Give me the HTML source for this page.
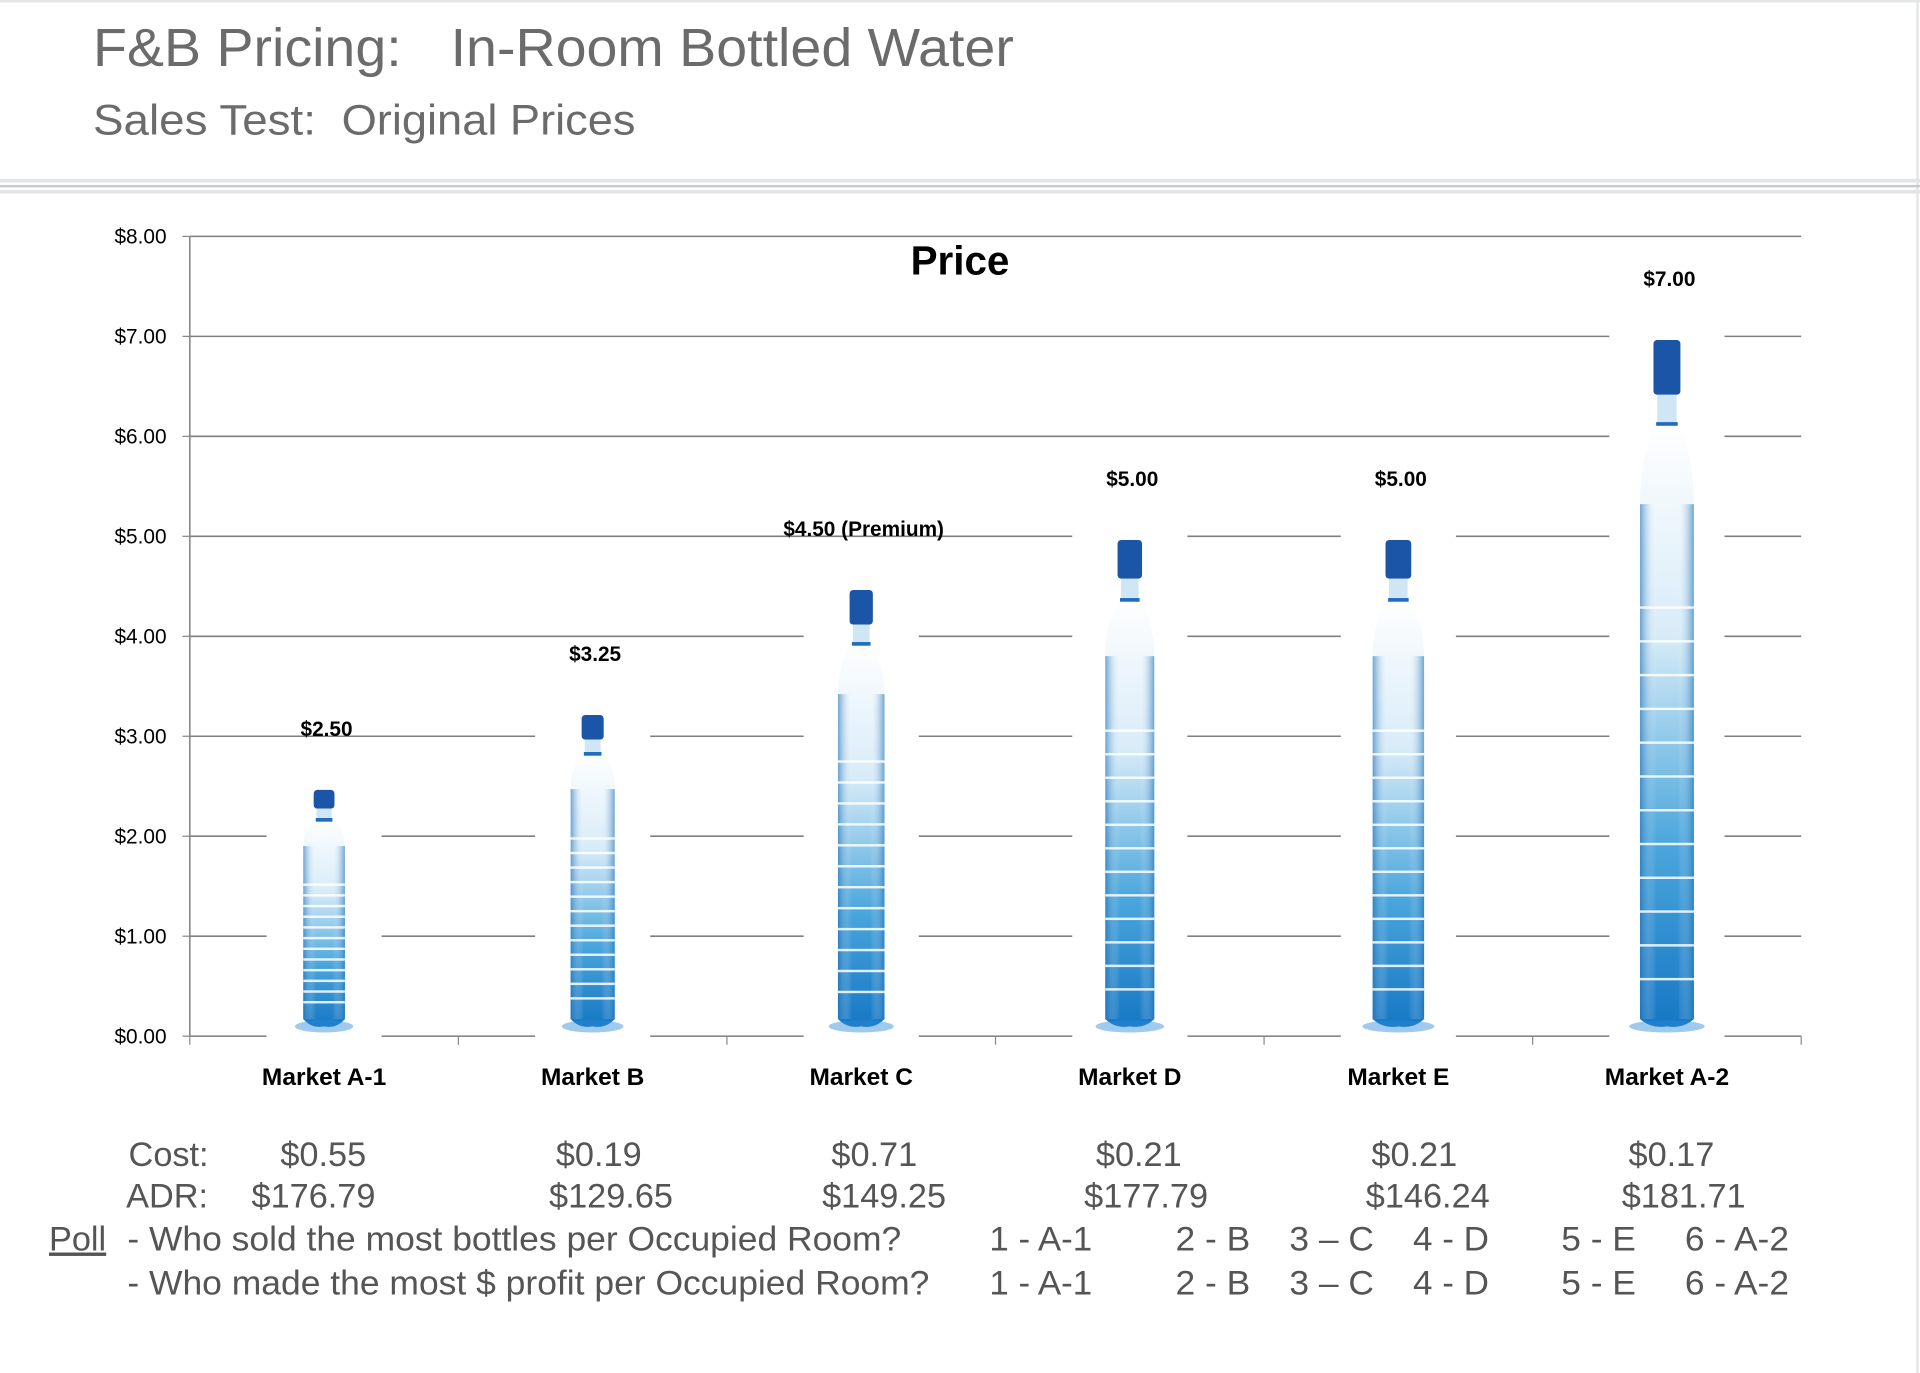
<!DOCTYPE html>
<html><head><meta charset="utf-8"><style>
html,body{margin:0;padding:0;background:#fff;}
svg{display:block;}
</style></head><body>
<svg width="1920" height="1373" viewBox="0 0 1568 1121" preserveAspectRatio="none" xmlns="http://www.w3.org/2000/svg">
<defs>
<linearGradient id="bodyg" x1="0" y1="0" x2="0" y2="1">
<stop offset="0" stop-color="#ffffff"/><stop offset="0.35" stop-color="#d8ecf8"/><stop offset="0.7" stop-color="#4aa6dc"/><stop offset="1" stop-color="#1677c4"/>
</linearGradient>
<linearGradient id="sideg" x1="0" y1="0" x2="1" y2="0">
<stop offset="0" stop-color="#1a6fb8" stop-opacity="0.6"/><stop offset="0.3" stop-color="#fff" stop-opacity="0"/><stop offset="0.7" stop-color="#fff" stop-opacity="0"/><stop offset="1" stop-color="#1a6fb8" stop-opacity="0.6"/>
</linearGradient>
</defs>
<rect x="0" y="0" width="1568" height="2" fill="#e4e6e8"/>
<rect x="1565" y="0" width="2" height="1121" fill="#e4e6e8"/>
<g font-family="Liberation Sans, sans-serif" fill="#6b6b6b">
<text x="76" y="54" font-size="44" textLength="252" lengthAdjust="spacingAndGlyphs">F&amp;B Pricing:</text>
<text x="368" y="54" font-size="44" textLength="460" lengthAdjust="spacingAndGlyphs">In-Room Bottled Water</text>
<text x="76" y="110" font-size="35" textLength="182" lengthAdjust="spacingAndGlyphs">Sales Test:</text>
<text x="279" y="110" font-size="35" textLength="240" lengthAdjust="spacingAndGlyphs">Original Prices</text>
<rect x="0" y="146" width="1568" height="3" fill="#e2e4e6"/>
<rect x="0" y="151" width="1568" height="2" fill="#c8cacc"/>
<rect x="0" y="155" width="1568" height="3" fill="#e2e4e6"/>
</g>
<g id="chart"></g>
<g font-family="Liberation Sans, sans-serif" font-size="28" fill="#555">
<text x="105" y="952">Cost:</text>
<text x="103" y="986">ADR:</text>
<g id="rows"></g>
<text x="40" y="1021" text-decoration="underline">Poll</text>
<text x="104" y="1021" textLength="632" lengthAdjust="spacingAndGlyphs">- Who sold the most bottles per Occupied Room?</text>
<text x="104" y="1057" textLength="655" lengthAdjust="spacingAndGlyphs">- Who made the most $ profit per Occupied Room?</text>
<g id="opts"></g>
</g>
<script>
const categories = ["Market A-1","Market B","Market C","Market D","Market E","Market A-2"];
const prices = [2.5,3.25,4.5,5.0,5.0,7.0];
const priceLabels = ["$2.50","$3.25","$4.50 (Premium)","$5.00","$5.00","$7.00"];
const yTicks = [0,1,2,3,4,5,6,7,8];
const costs = ["$0.55","$0.19","$0.71","$0.21","$0.21","$0.17"];
const adrs = ["$176.79","$129.65","$149.25","$177.79","$146.24","$181.71"];
const pollOptions = ["1 - A-1","2 - B","3 \u2013 C","4 - D","5 - E","6 - A-2"];

const NS="http://www.w3.org/2000/svg";
const x0=155,x1=1471,y0=846,yTop=193,yMax=8;
const band=(x1-x0)/categories.length;
const xC=i=>x0+band*(i+0.5);
const yS=v=>y0-(v/yMax)*(y0-yTop);
function mk(tag,attrs,parent){const e=document.createElementNS(NS,tag);for(const k in attrs)e.setAttribute(k,attrs[k]);parent.appendChild(e);return e;}
const g=document.getElementById('chart');
yTicks.forEach(t=>{
 const l=mk('line',{x1:x0,x2:x1,y1:yS(t),y2:yS(t),stroke:t===0?'#888':'#7f7f7f','stroke-width':1.3},g);
 
 
 const tx=mk('text',{x:136,y:yS(t)+6,'text-anchor':'end','font-family':'Liberation Sans, sans-serif','font-size':17,fill:'#000'},g);
 tx.textContent='$'+t.toFixed(2);
 
 
 mk('line',{x1:x0-6,x2:x0,y1:yS(t),y2:yS(t),stroke:'#888'},g);
});
mk('line',{x1:x0,x2:x0,y1:yTop,y2:y0,stroke:'#888','stroke-width':1.3},g);
for(let i=0;i<=categories.length;i++){mk('line',{x1:x0+band*i,x2:x0+band*i,y1:y0,y2:y0+7,stroke:'#888'},g);}
const pt=mk('text',{x:784,y:224,'text-anchor':'middle','font-family':'Liberation Sans, sans-serif','font-weight':'bold','font-size':33,fill:'#000'},g);
pt.textContent='Price';


categories.forEach((c,i)=>{
 const cx=xC(i),top=yS(prices[i])+3;
 const w=34+i*2;
 mk('rect',{x:cx-47,y:top-8,width:94,height:y0-top+10,fill:'#fff'},g);
 const b=mk('g',{},g);
 
 
 const h=y0-top-10;
 const capH=h*0.08,neckH=h*0.04,shoulder=h*0.12;
 const bt=top+capH+neckH;
 mk('rect',{x:cx-w*0.25,y:top,width:w*0.5,height:capH,rx:3,fill:'#1b55a8'},b);
 mk('rect',{x:cx-w*0.18,y:top+capH,width:w*0.36,height:neckH,fill:'#cfe6f5'},b);
 mk('path',{d:`M${cx-w*0.2},${bt} L${cx+w*0.2},${bt} Q${cx+w/2},${bt+shoulder*0.4} ${cx+w/2},${bt+shoulder} L${cx+w/2},${y0-14} Q${cx+w*0.3},${y0-6} ${cx},${y0-8} Q${cx-w*0.3},${y0-6} ${cx-w/2},${y0-14} L${cx-w/2},${bt+shoulder} Q${cx-w/2},${bt+shoulder*0.4} ${cx-w*0.2},${bt} Z`,fill:'url(#bodyg)'},b);
 mk('rect',{x:cx-w/2,y:bt+shoulder,width:w,height:y0-14-bt-shoulder,fill:'url(#sideg)'},b);
 mk('rect',{x:cx-w*0.2,y:bt,width:w*0.4,height:3,fill:'#1f6cc0'},b);
 const bodyStart=bt+(y0-bt)*0.3;
 for(let r=0;r<12;r++){const yy=bodyStart+r*(y0-20-bodyStart)/12;mk('rect',{x:cx-w/2,y:yy,width:w,height:2,fill:'#ffffff',opacity:0.85},b);}
 mk('ellipse',{cx:cx,cy:y0-8,rx:w*0.7,ry:5,fill:'#2a8ad6',opacity:0.45},b);
 const vl=mk('text',{x:cx+2,y:top-44,'text-anchor':'middle','font-family':'Liberation Sans, sans-serif','font-weight':'bold','font-size':17,fill:'#000'},g);
 vl.textContent=priceLabels[i];
 
 
 const cl=mk('text',{x:cx,y:886,'text-anchor':'middle','font-family':'Liberation Sans, sans-serif','font-weight':'bold','font-size':20,fill:'#000'},g);
 cl.textContent=c;
 
 
});
const rows=document.getElementById('rows');
const costX=[264,489,714,930,1155,1365],adrX=[256,499,722,936,1166,1375];
costs.forEach((c,i)=>{
 const t=mk('text',{x:costX[i],y:952,'text-anchor':'middle'},rows);t.textContent=c;
 
 
 const a=mk('text',{x:adrX[i],y:986,'text-anchor':'middle'},rows);a.textContent=adrs[i];
 
 
});
const opts=document.getElementById('opts');
const optX=[808,960,1053,1154,1275,1376];
const optW=[84,61,69,62,61,85];
[1021,1057].forEach(yy=>{pollOptions.forEach((o,i)=>{
 const t=mk('text',{x:optX[i],y:yy,textLength:optW[i],lengthAdjust:'spacingAndGlyphs'},opts);t.textContent=o;
 
 
});});
</script>
</svg>
</body></html>
